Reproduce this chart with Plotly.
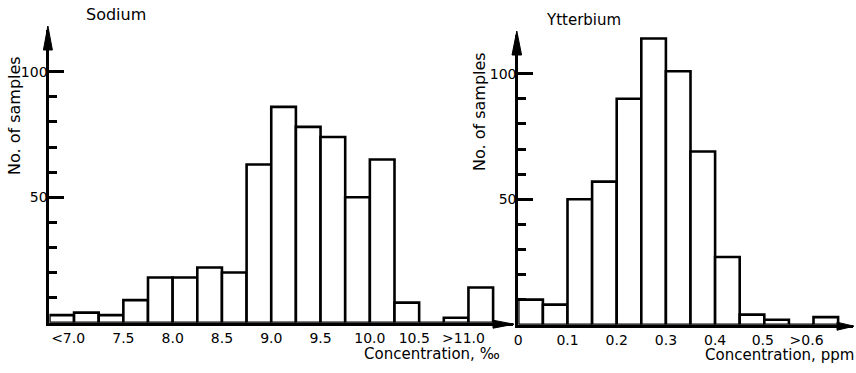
import plotly.graph_objects as go

# Sodium: class left edges (%) with a constant class width; first class is "<7.0"
sodium_left = [6.75, 7.0, 7.25, 7.5, 7.75, 8.0, 8.25, 8.5, 8.75, 9.0,
               9.25, 9.5, 9.75, 10.0, 10.25, 10.5, 10.75, 11.0]
sodium_count = [3, 4, 3, 9, 18, 18, 22, 20, 63, 86,
                78, 74, 50, 65, 8, 0, 2, 14]
sodium_width = 0.25
sodium_tick_vals = [6.94, 7.5, 8.0, 8.5, 9.0, 9.5, 10.0, 10.45, 10.95]
sodium_tick_text = ["<7.0", "7.5", "8.0", "8.5", "9.0", "9.5", "10.0", "10.5", ">11.0"]

# Ytterbium: class left edges (ppm), last class is ">0.6"
ytterbium_left = [0.0, 0.05, 0.1, 0.15, 0.2, 0.25, 0.3, 0.35, 0.4, 0.45, 0.5, 0.55, 0.6]
ytterbium_count = [10, 8, 50, 57, 90, 114, 101, 69, 27, 4, 2, 0, 3]
ytterbium_width = 0.05
ytterbium_tick_vals = [0.0, 0.1, 0.2, 0.3, 0.4, 0.497, 0.586]
ytterbium_tick_text = ["0", "0.1", "0.2", "0.3", "0.4", "0.5", ">0.6"]

count_major = [50, 100]
count_minor = [10, 20, 30, 40, 60, 70, 80, 90]

W, H = 856, 373
FONT = "DejaVu Sans"


def fx(p):
    return p / W


def fy(p):
    return 1 - p / H


# pixel frame of each panel
L_X0, L_X1, L_Y0, L_Y1 = 49.4, 513.0, 322.7, 30.0
L_PX_PER_X, L_PX_PER_Y = 98.6, 2.51
R_X0, R_X1, R_Y0, R_Y1 = 518.3, 853.0, 324.7, 35.0
R_PX_PER_X, R_PX_PER_Y = 492.0, 2.51

bar_style = dict(color="white", line=dict(color="black", width=2.6))

fig = go.Figure()
fig.add_trace(go.Bar(
    x=[e + sodium_width / 2 for e in sodium_left], y=sodium_count,
    width=sodium_width, marker=bar_style, xaxis="x", yaxis="y",
    showlegend=False, hoverinfo="skip"))
fig.add_trace(go.Bar(
    x=[e + ytterbium_width / 2 for e in ytterbium_left], y=ytterbium_count,
    width=ytterbium_width, marker=bar_style, xaxis="x2", yaxis="y2",
    showlegend=False, hoverinfo="skip"))

tick_font = dict(family=FONT, size=14, color="black")
common_x = dict(showline=True, linewidth=3, linecolor="black", ticks="",
                showgrid=False, zeroline=False, tickmode="array",
                tickfont=tick_font, fixedrange=True)
common_y = dict(showline=True, linewidth=3, linecolor="black",
                ticks="inside", ticklen=15, tickwidth=2.5, tickcolor="black",
                tickmode="array", tickvals=count_major, ticklabelstandoff=-4,
                minor=dict(tickmode="array", tickvals=count_minor, ticks="inside",
                           ticklen=8, tickwidth=2.5, tickcolor="black"),
                showgrid=False, zeroline=False, tickfont=tick_font, fixedrange=True)

fig.update_layout(
    width=W, height=H, autosize=False,
    margin=dict(l=0, r=0, t=0, b=0, pad=0),
    paper_bgcolor="white", plot_bgcolor="white",
    template="none",
    xaxis=dict(common_x, domain=[fx(L_X0), fx(L_X1)], anchor="y",
               range=[6.75, 6.75 + (L_X1 - L_X0) / L_PX_PER_X],
               tickvals=sodium_tick_vals, ticktext=sodium_tick_text),
    yaxis=dict(common_y, domain=[fy(L_Y0), fy(L_Y1)], anchor="x",
               range=[0, (L_Y0 - L_Y1) / L_PX_PER_Y]),
    xaxis2=dict(common_x, domain=[fx(R_X0), fx(R_X1)], anchor="y2",
                range=[0, (R_X1 - R_X0) / R_PX_PER_X],
                tickvals=ytterbium_tick_vals, ticktext=ytterbium_tick_text),
    yaxis2=dict(common_y, domain=[fy(R_Y0), fy(R_Y1)], anchor="x2",
                range=[0, (R_Y0 - R_Y1) / R_PX_PER_Y]),
)


def arrow_up(x, tip, base, half):
    return dict(type="path", xref="paper", yref="paper", fillcolor="black",
                line=dict(color="black", width=1),
                path=f"M {fx(x - half)} {fy(base)} L {fx(x)} {fy(tip)} "
                     f"L {fx(x + half)} {fy(base)} Z")


def arrow_right(y, tip, base, half):
    return dict(type="path", xref="paper", yref="paper", fillcolor="black",
                line=dict(color="black", width=1),
                path=f"M {fx(base)} {fy(y - half)} L {fx(tip)} {fy(y)} "
                     f"L {fx(base)} {fy(y + half)} Z")


fig.update_layout(shapes=[
    arrow_up(L_X0 - 1.5, 26, 50, 4.5),
    arrow_up(R_X0 - 1.5, 31, 55, 4.8),
    arrow_right(L_Y0 + 1.5, 514, 493, 4),
    arrow_right(R_Y0 + 1.5, 854, 837, 4),
])

title_font = dict(family=FONT, size=15, color="black")


def label(text, x, y, angle=0, size=15):
    return dict(text=text, x=fx(x), y=fy(y), xref="paper", yref="paper",
                xanchor="center", yanchor="middle", showarrow=False,
                textangle=angle, font=dict(title_font, size=size))


fig.update_layout(annotations=[
    label("Sodium", 116, 14, size=16),
    label("Ytterbium", 583, 20),
    label("No. of samples", 14, 116, -90, 16),
    label("No. of samples", 480, 111, -90, 16),
    label("Concentration, ‰", 432, 354),
    label("Concentration, ppm", 779, 355),
])

fig.write_html("out.html")
